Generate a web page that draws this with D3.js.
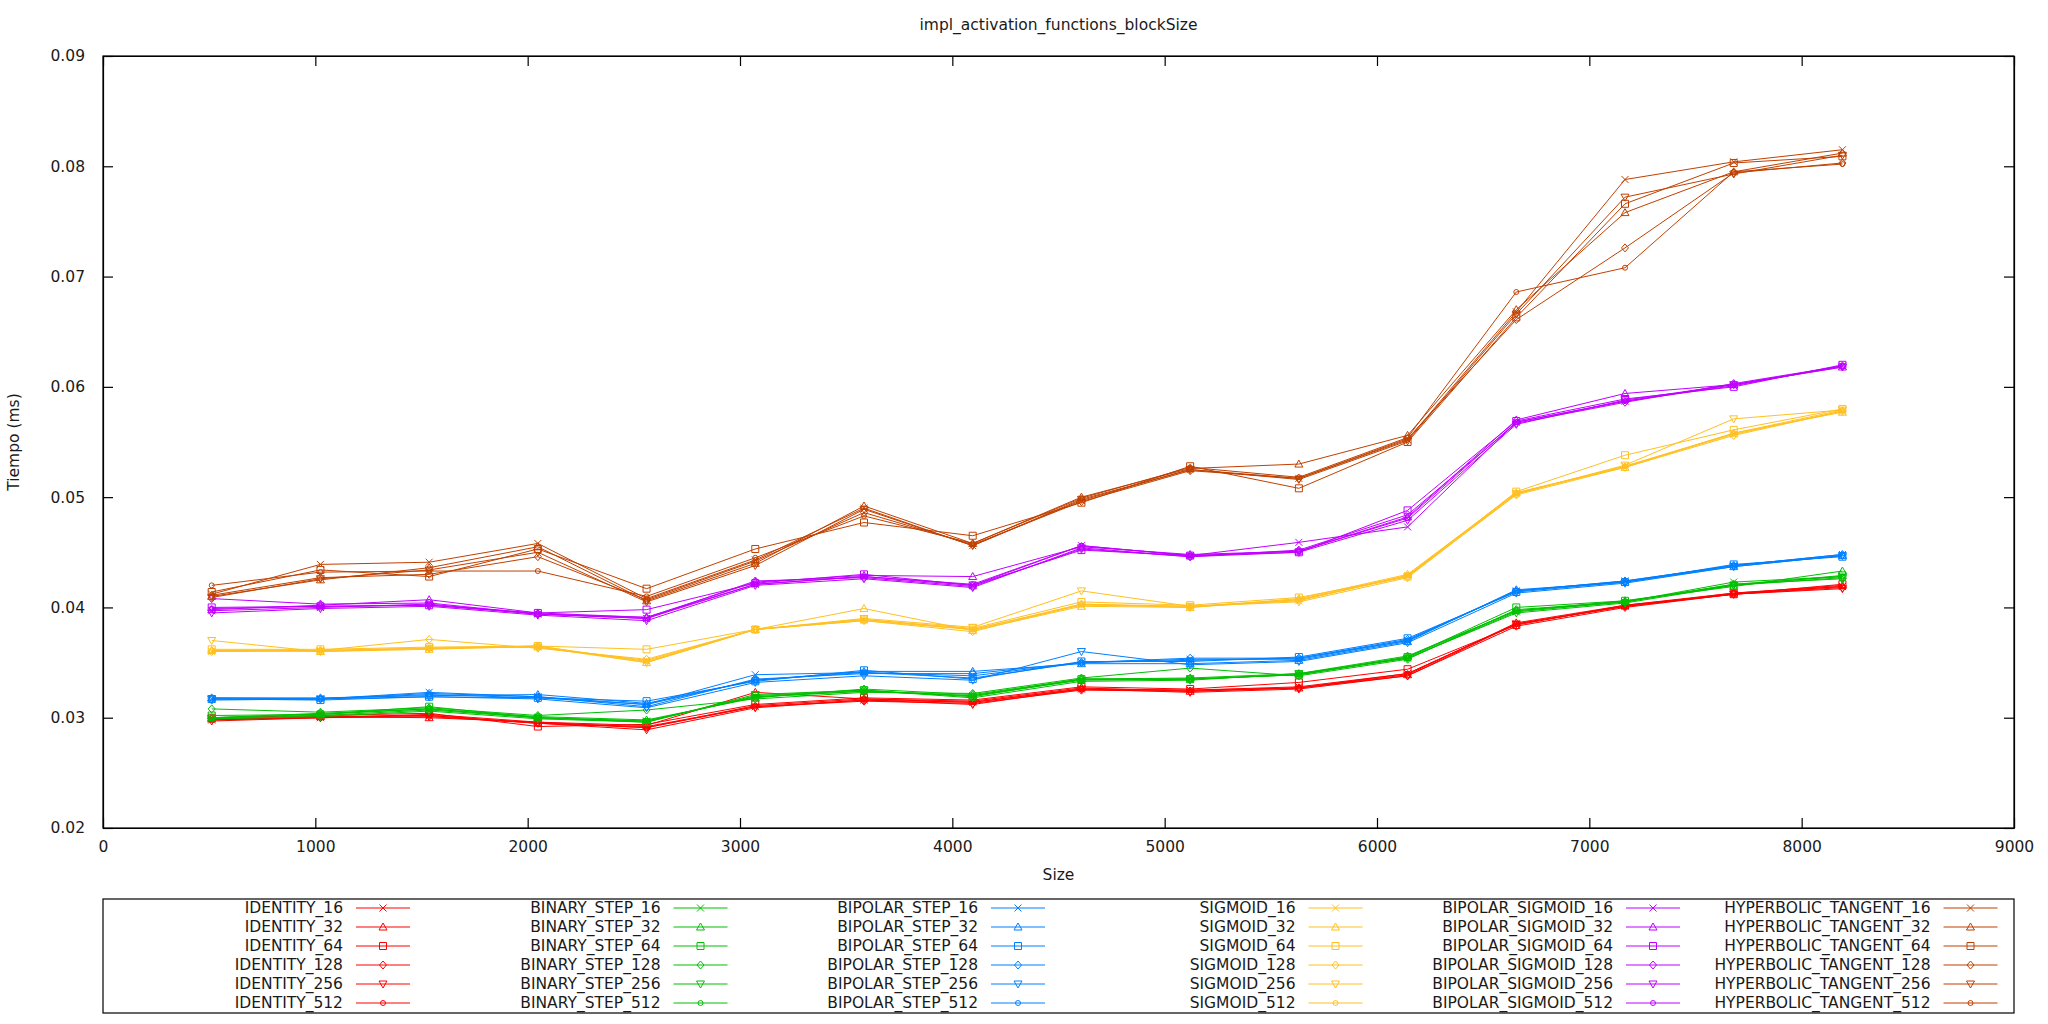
<!doctype html>
<html>
<head>
<meta charset="UTF-8">
<title>impl_activation_functions_blockSize</title>
<script src="https://d3js.org/d3.v7.min.js"></script>
<style>
    body { margin: 0; background: #fff; }
    text { font-family: "DejaVu Sans", sans-serif; font-size: 15.5px; fill: #1a1a1a; }
</style>
</head>
<body>
<script>
    // tamanos de entrada (eje x)
    var sizes = [512, 1024, 1536, 2048, 2560, 3072, 3584, 4096, 4608, 5120, 5632, 6144, 6656, 7168, 7680, 8192];
    var blockSizes = [16, 32, 64, 128, 256, 512];
    var functionNames = ["IDENTITY", "BINARY_STEP", "BIPOLAR_STEP", "SIGMOID", "BIPOLAR_SIGMOID", "HYPERBOLIC_TANGENT"];
    var colors = ["#ff0000", "#00c000", "#0080ff", "#ffc020", "#c000ff", "#c04000"];
    var xTicks = [0, 1000, 2000, 3000, 4000, 5000, 6000, 7000, 8000, 9000];
    var yTicks = [0.02, 0.03, 0.04, 0.05, 0.06, 0.07, 0.08, 0.09];

    // una fila por blockSize: 16, 32, 64, 128, 256, 512
    var identity = [
        [0.0298, 0.0300, 0.0302, 0.0295, 0.0292, 0.0310, 0.0316, 0.0314, 0.0326, 0.0325, 0.0328, 0.0340, 0.0385, 0.0401, 0.0412, 0.0419],
        [0.0299, 0.0301, 0.0300, 0.0296, 0.0293, 0.0323, 0.0317, 0.0315, 0.0327, 0.0324, 0.0327, 0.0339, 0.0386, 0.0402, 0.0413, 0.0420],
        [0.0300, 0.0302, 0.0304, 0.0292, 0.0294, 0.0312, 0.0318, 0.0316, 0.0328, 0.0326, 0.0332, 0.0344, 0.0384, 0.0402, 0.0412, 0.0421],
        [0.0299, 0.0300, 0.0303, 0.0296, 0.0291, 0.0310, 0.0315, 0.0313, 0.0325, 0.0324, 0.0327, 0.0338, 0.0383, 0.0400, 0.0412, 0.0418],
        [0.0297, 0.0300, 0.0301, 0.0295, 0.0289, 0.0309, 0.0316, 0.0312, 0.0326, 0.0323, 0.0326, 0.0338, 0.0385, 0.0401, 0.0412, 0.0417],
        [0.0298, 0.0301, 0.0302, 0.0295, 0.0291, 0.0311, 0.0317, 0.0314, 0.0326, 0.0325, 0.0327, 0.0340, 0.0385, 0.0401, 0.0413, 0.0419]
    ];
    var binaryStep = [
        [0.0299, 0.0302, 0.0307, 0.0300, 0.0297, 0.0319, 0.0324, 0.0320, 0.0334, 0.0335, 0.0339, 0.0354, 0.0396, 0.0405, 0.0423, 0.0428],
        [0.0300, 0.0304, 0.0308, 0.0301, 0.0298, 0.0318, 0.0326, 0.0321, 0.0335, 0.0336, 0.0340, 0.0356, 0.0397, 0.0406, 0.0419, 0.0433],
        [0.0302, 0.0303, 0.0310, 0.0300, 0.0296, 0.0320, 0.0325, 0.0319, 0.0335, 0.0335, 0.0339, 0.0355, 0.0400, 0.0406, 0.0420, 0.0429],
        [0.0308, 0.0305, 0.0309, 0.0302, 0.0307, 0.0317, 0.0323, 0.0322, 0.0336, 0.0345, 0.0338, 0.0353, 0.0398, 0.0405, 0.0421, 0.0426],
        [0.0299, 0.0301, 0.0306, 0.0299, 0.0296, 0.0321, 0.0325, 0.0318, 0.0333, 0.0334, 0.0340, 0.0354, 0.0395, 0.0404, 0.0420, 0.0427],
        [0.0300, 0.0303, 0.0308, 0.0300, 0.0297, 0.0319, 0.0324, 0.0320, 0.0335, 0.0335, 0.0339, 0.0355, 0.0397, 0.0405, 0.0421, 0.0428]
    ];
    var bipolarStep = [
        [0.0317, 0.0317, 0.0323, 0.0319, 0.0312, 0.0339, 0.0341, 0.0338, 0.0350, 0.0353, 0.0353, 0.0370, 0.0415, 0.0424, 0.0438, 0.0448],
        [0.0318, 0.0318, 0.0320, 0.0321, 0.0313, 0.0334, 0.0342, 0.0342, 0.0349, 0.0349, 0.0352, 0.0369, 0.0416, 0.0423, 0.0437, 0.0447],
        [0.0317, 0.0316, 0.0319, 0.0318, 0.0315, 0.0333, 0.0343, 0.0335, 0.0351, 0.0351, 0.0355, 0.0372, 0.0414, 0.0423, 0.0439, 0.0446],
        [0.0316, 0.0317, 0.0322, 0.0319, 0.0310, 0.0335, 0.0340, 0.0340, 0.0350, 0.0354, 0.0354, 0.0371, 0.0415, 0.0424, 0.0438, 0.0448],
        [0.0317, 0.0317, 0.0319, 0.0317, 0.0309, 0.0332, 0.0338, 0.0334, 0.0360, 0.0348, 0.0351, 0.0368, 0.0413, 0.0422, 0.0437, 0.0447],
        [0.0318, 0.0317, 0.0321, 0.0318, 0.0312, 0.0334, 0.0341, 0.0336, 0.0350, 0.0352, 0.0354, 0.0370, 0.0415, 0.0423, 0.0438, 0.0447]
    ];
    var sigmoid = [
        [0.0360, 0.0361, 0.0363, 0.0364, 0.0352, 0.0380, 0.0389, 0.0380, 0.0402, 0.0401, 0.0406, 0.0429, 0.0503, 0.0528, 0.0557, 0.0578],
        [0.0361, 0.0360, 0.0362, 0.0365, 0.0350, 0.0380, 0.0399, 0.0379, 0.0401, 0.0400, 0.0408, 0.0430, 0.0504, 0.0527, 0.0558, 0.0577],
        [0.0362, 0.0362, 0.0364, 0.0365, 0.0362, 0.0380, 0.0389, 0.0381, 0.0405, 0.0402, 0.0409, 0.0428, 0.0505, 0.0538, 0.0561, 0.0580],
        [0.0360, 0.0361, 0.0371, 0.0363, 0.0353, 0.0380, 0.0388, 0.0378, 0.0403, 0.0400, 0.0407, 0.0428, 0.0502, 0.0527, 0.0556, 0.0578],
        [0.0370, 0.0360, 0.0363, 0.0364, 0.0350, 0.0380, 0.0390, 0.0382, 0.0415, 0.0401, 0.0405, 0.0427, 0.0503, 0.0529, 0.0571, 0.0579],
        [0.0361, 0.0361, 0.0363, 0.0365, 0.0351, 0.0380, 0.0388, 0.0380, 0.0403, 0.0401, 0.0407, 0.0429, 0.0504, 0.0528, 0.0558, 0.0579]
    ];
    var bipolarSigmoid = [
        [0.0397, 0.0400, 0.0403, 0.0394, 0.0390, 0.0421, 0.0428, 0.0420, 0.0456, 0.0447, 0.0459, 0.0473, 0.0568, 0.0587, 0.0601, 0.0619],
        [0.0398, 0.0402, 0.0407, 0.0395, 0.0391, 0.0423, 0.0429, 0.0428, 0.0455, 0.0448, 0.0451, 0.0482, 0.0570, 0.0594, 0.0602, 0.0618],
        [0.0400, 0.0401, 0.0402, 0.0395, 0.0398, 0.0422, 0.0430, 0.0420, 0.0452, 0.0447, 0.0450, 0.0488, 0.0569, 0.0589, 0.0600, 0.0620],
        [0.0408, 0.0403, 0.0404, 0.0394, 0.0390, 0.0424, 0.0427, 0.0419, 0.0453, 0.0446, 0.0452, 0.0484, 0.0567, 0.0586, 0.0603, 0.0619],
        [0.0395, 0.0399, 0.0401, 0.0393, 0.0388, 0.0420, 0.0426, 0.0418, 0.0454, 0.0446, 0.0450, 0.0479, 0.0566, 0.0588, 0.0602, 0.0618],
        [0.0399, 0.0401, 0.0402, 0.0394, 0.0391, 0.0421, 0.0428, 0.0421, 0.0456, 0.0447, 0.0451, 0.0481, 0.0568, 0.0587, 0.0602, 0.0619]
    ];
    var hyperbolicTangent = [
        [0.0412, 0.0439, 0.0441, 0.0458, 0.0408, 0.0443, 0.0490, 0.0456, 0.0497, 0.0525, 0.0517, 0.0552, 0.0668, 0.0788, 0.0804, 0.0815],
        [0.0410, 0.0425, 0.0436, 0.0455, 0.0406, 0.0440, 0.0492, 0.0458, 0.0500, 0.0526, 0.0530, 0.0556, 0.0670, 0.0758, 0.0795, 0.0812],
        [0.0414, 0.0434, 0.0428, 0.0453, 0.0417, 0.0453, 0.0477, 0.0465, 0.0495, 0.0528, 0.0508, 0.0550, 0.0663, 0.0766, 0.0803, 0.0809],
        [0.0411, 0.0427, 0.0430, 0.0446, 0.0407, 0.0442, 0.0486, 0.0457, 0.0496, 0.0524, 0.0517, 0.0553, 0.0661, 0.0726, 0.0794, 0.0803],
        [0.0409, 0.0426, 0.0434, 0.0450, 0.0405, 0.0438, 0.0489, 0.0456, 0.0498, 0.0525, 0.0516, 0.0551, 0.0666, 0.0772, 0.0793, 0.0810],
        [0.0420, 0.0432, 0.0433, 0.0433, 0.0410, 0.0445, 0.0483, 0.0458, 0.0499, 0.0527, 0.0518, 0.0554, 0.0686, 0.0708, 0.0795, 0.0802]
    ];
    var allData = [identity, binaryStep, bipolarStep, sigmoid, bipolarSigmoid, hyperbolicTangent];

    var w = 2048, h = 1024;
    var plotLeft = 103, plotRight = 2014, plotTop = 56, plotBottom = 828;

    var svg = d3.select("body").append("svg").attr("width", w).attr("height", h);

    var x = d3.scaleLinear().domain([0, 9000]).range([plotLeft, plotRight]);
    var y = d3.scaleLinear().domain([0.02, 0.09]).range([plotBottom, plotTop]);

    // ejes con marcas hacia dentro (estilo gnuplot)
    svg.append("g").attr("transform", "translate(0," + plotBottom + ")")
        .call(d3.axisBottom(x).tickValues(xTicks).tickFormat(d3.format("d")).tickSizeInner(-10).tickSizeOuter(0).tickPadding(13));
    svg.append("g").attr("transform", "translate(0," + plotTop + ")")
        .call(d3.axisTop(x).tickValues(xTicks).tickFormat("").tickSizeInner(-10).tickSizeOuter(0));
    svg.append("g").attr("transform", "translate(" + plotLeft + ",0)")
        .call(d3.axisLeft(y).tickValues(yTicks).tickFormat(d3.format(".2f")).tickSizeInner(-10).tickSizeOuter(0).tickPadding(18));
    svg.append("g").attr("transform", "translate(" + plotRight + ",0)")
        .call(d3.axisRight(y).tickValues(yTicks).tickFormat("").tickSizeInner(-10).tickSizeOuter(0));
    svg.selectAll(".tick text").style("font-size", "15.5px").style("font-family", "DejaVu Sans");
    svg.selectAll(".domain, .tick line").attr("stroke", "#000").attr("stroke-width", 1.2);

    svg.append("rect").attr("x", plotLeft).attr("y", plotTop).attr("width", plotRight - plotLeft).attr("height", plotBottom - plotTop)
        .attr("fill", "none").attr("stroke", "#000").attr("stroke-width", 1.2);

    svg.append("text").attr("x", (plotLeft + plotRight) / 2).attr("y", 25).attr("text-anchor", "middle")
        .attr("dominant-baseline", "central").text("impl_activation_functions_blockSize");
    svg.append("text").attr("x", (plotLeft + plotRight) / 2).attr("y", 875).attr("text-anchor", "middle")
        .attr("dominant-baseline", "central").text("Size");
    svg.append("text").attr("transform", "translate(14," + (plotTop + plotBottom) / 2 + ") rotate(-90)")
        .attr("text-anchor", "middle").attr("dominant-baseline", "central").text("Tiempo (ms)");

    // formas de los puntos por blockSize
    var markerPaths = [
        "M-3.5,-3.5L3.5,3.5M-3.5,3.5L3.5,-3.5",
        "M0,-4L4,3L-4,3Z",
        "M-3.5,-3.5H3.5V3.5H-3.5Z",
        "M0,-4L3.5,0L0,4L-3.5,0Z",
        "M0,4L4,-3L-4,-3Z",
        "M-2.5,0A2.5,2.5 0 1,0 2.5,0A2.5,2.5 0 1,0 -2.5,0Z"
    ];

    var line = d3.line().x(function (d) { return x(d[0]); }).y(function (d) { return y(d[1]); });
    var plot = svg.append("g");

    allData.forEach(function (fn, i) {
        fn.forEach(function (vals, j) {
            var pts = sizes.map(function (s, k) { return [s, vals[k]]; });
            var g = plot.append("g");
            g.append("path").attr("d", line(pts)).attr("fill", "none")
                .attr("stroke", colors[i]).attr("stroke-width", 1);
            g.selectAll("path.mk").data(pts).enter().append("path").attr("class", "mk")
                .attr("transform", function (d) { return "translate(" + x(d[0]) + "," + y(d[1]) + ")"; })
                .attr("d", markerPaths[j]).attr("fill", "none").attr("stroke", colors[i]).attr("stroke-width", 1);
        });
    });

    // leyenda
    var legTop = 899, legBottom = 1013;
    svg.append("rect").attr("x", plotLeft).attr("y", legTop).attr("width", plotRight - plotLeft).attr("height", legBottom - legTop)
        .attr("fill", "none").attr("stroke", "#000").attr("stroke-width", 1.2);

    var legend = svg.append("g");
    functionNames.forEach(function (name, i) {
        var textEnd = 343 + i * 317.5;
        blockSizes.forEach(function (b, j) {
            var ly = 908 + j * 19;
            legend.append("text").attr("x", textEnd).attr("y", ly).attr("text-anchor", "end")
                .attr("dominant-baseline", "central").text(name + "_" + b);
            legend.append("line").attr("x1", textEnd + 13).attr("x2", textEnd + 67).attr("y1", ly).attr("y2", ly)
                .attr("stroke", colors[i]).attr("stroke-width", 1);
            legend.append("path").attr("transform", "translate(" + (textEnd + 40) + "," + ly + ")")
                .attr("d", markerPaths[j]).attr("fill", "none").attr("stroke", colors[i]).attr("stroke-width", 1);
        });
    });
</script>
</body>
</html>
